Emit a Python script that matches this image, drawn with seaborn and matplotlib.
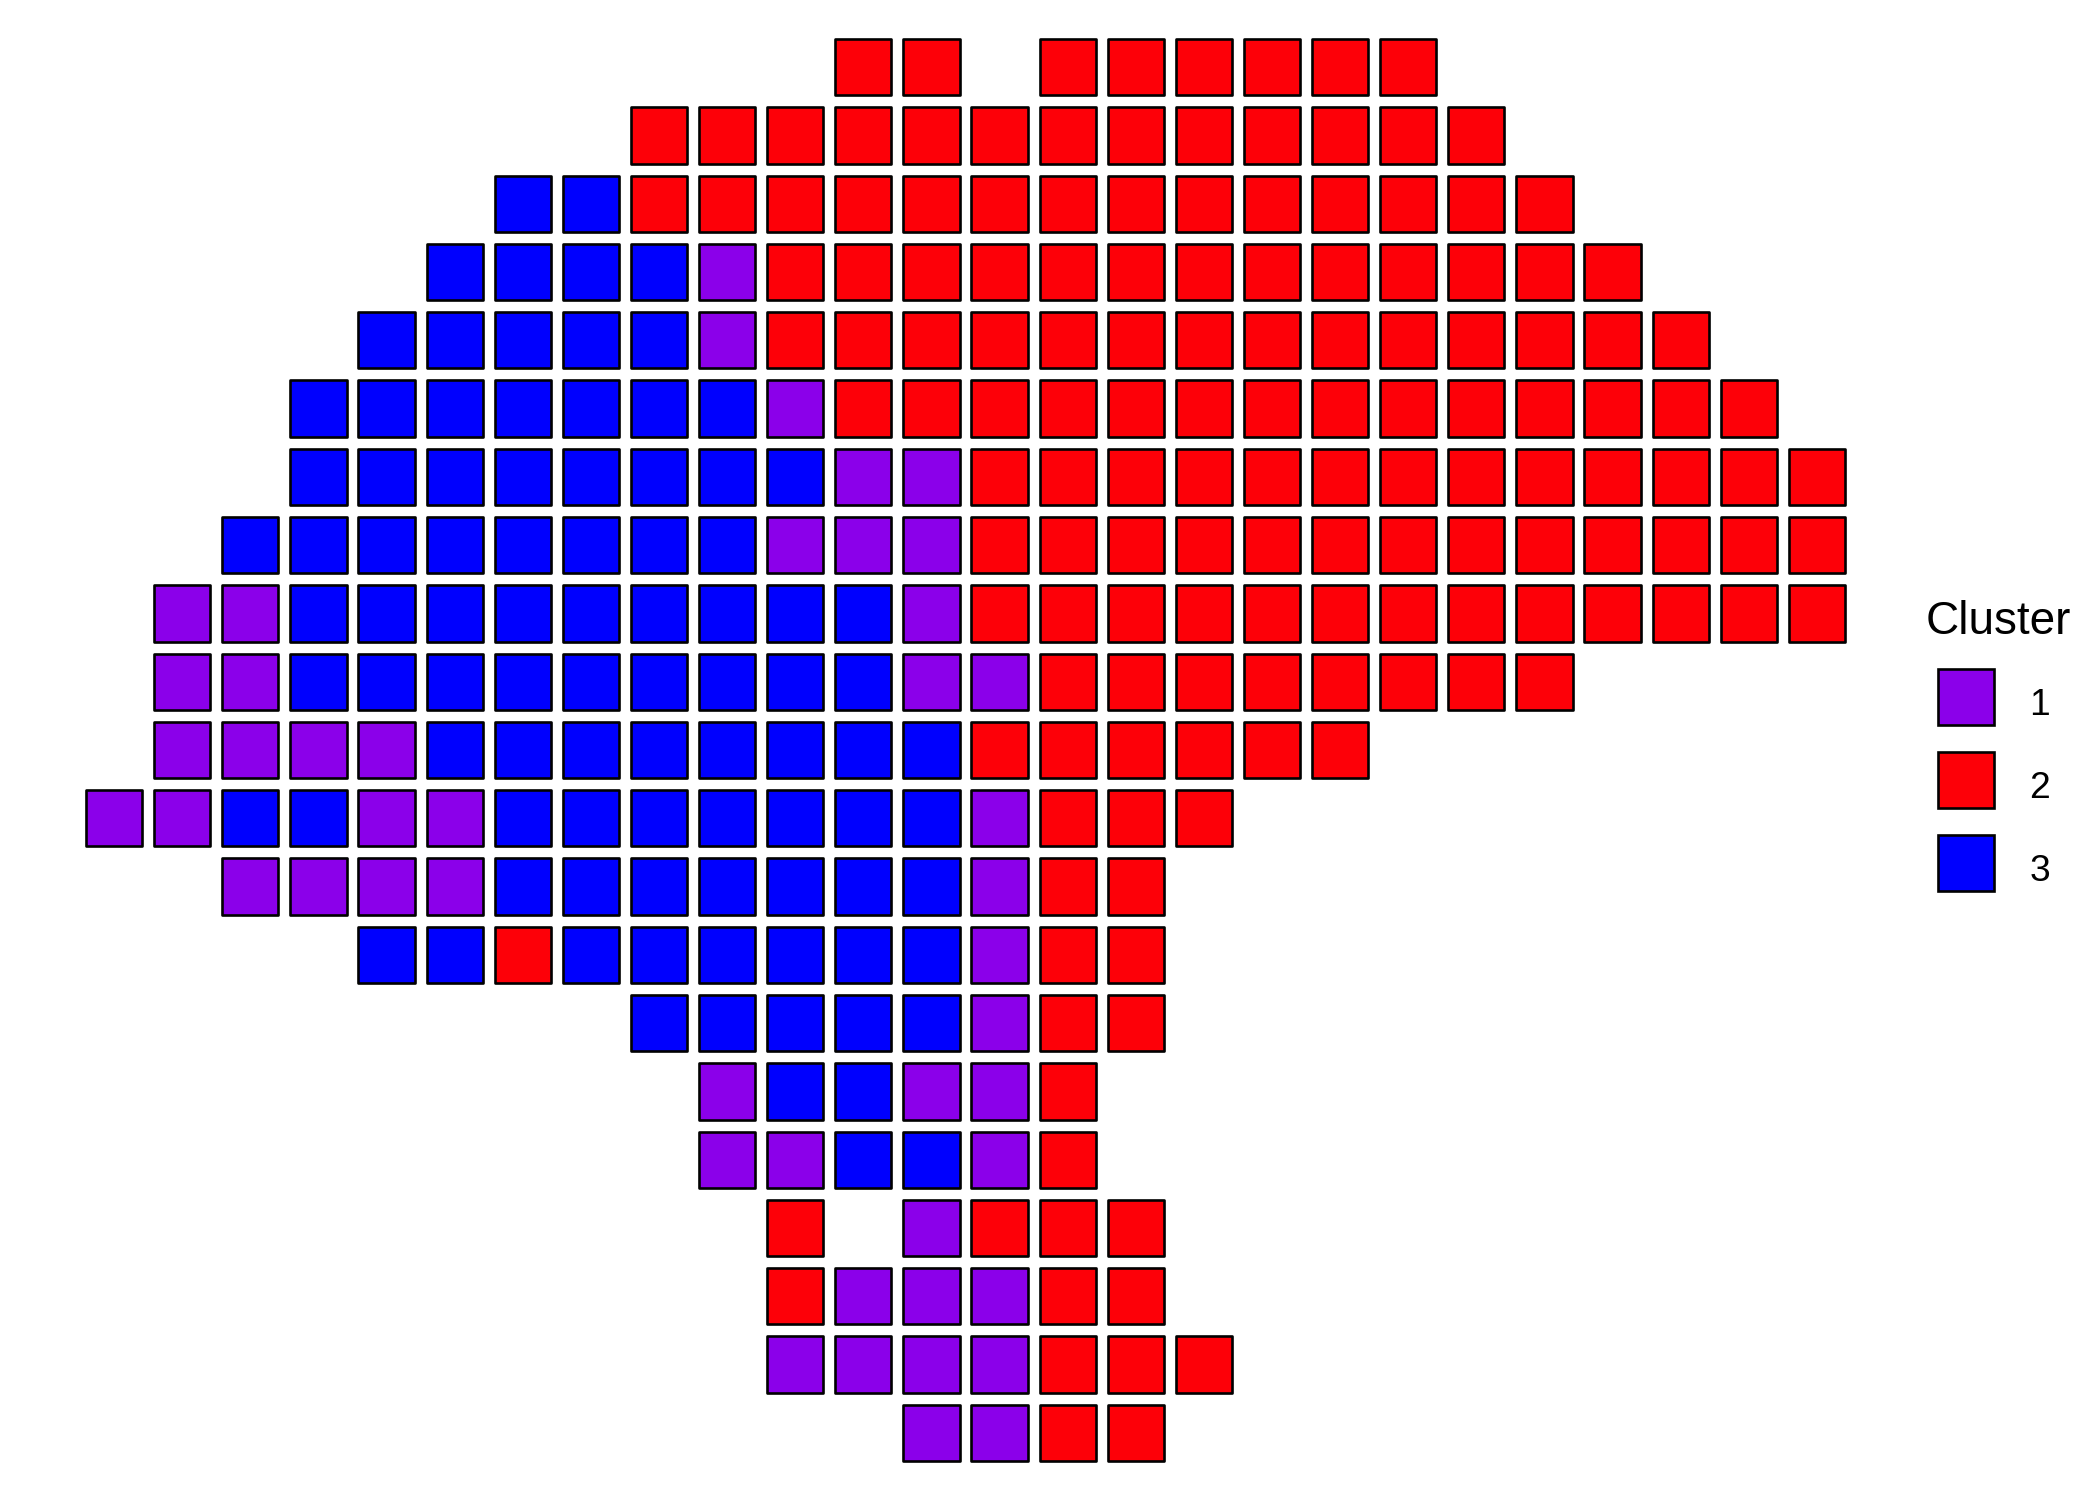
import numpy as np
import pandas as pd
import matplotlib
matplotlib.use("Agg")
import matplotlib.pyplot as plt
from matplotlib.lines import Line2D
import seaborn as sns

# Grid: one string per row (top to bottom), one char per column (26 columns).
# '1', '2', '3' = cluster, '.' = empty cell
grid_rows = [
    "..........." + "22" + "." + "222222" + "......",
    "........" + "2222222222222" + ".....",
    "......" + "33" + "22222222222222" + "....",
    "....." + "3333" + "1" + "2222222222222" + "...",
    "...." + "33333" + "1" + "22222222222222" + "..",
    "..." + "3333333" + "1" + "22222222222222" + ".",
    "..." + "33333333" + "11" + "2222222222222",
    ".." + "33333333" + "111" + "2222222222222",
    "." + "11" + "333333333" + "1" + "2222222222222",
    "." + "11" + "333333333" + "11" + "22222222" + "....",
    "." + "1111" + "33333333" + "222222" + ".......",
    "11" + "33" + "11" + "3333333" + "1" + "222" + ".........",
    ".." + "1111" + "3333333" + "1" + "22" + "..........",
    "...." + "33" + "2" + "333333" + "1" + "22" + "..........",
    "........" + "33333" + "1" + "22" + "..........",
    "........." + "1" + "33" + "11" + "2" + "...........",
    "........." + "11" + "33" + "1" + "2" + "...........",
    ".........." + "2" + "." + "1" + "222" + "..........",
    ".........." + "2" + "111" + "22" + "..........",
    ".........." + "1111" + "222" + ".........",
    "............" + "11" + "22" + "..........",
]

cluster_levels = ["1", "2", "3"]
cluster_colors = ["#8B00EA", "#FD0008", "#0000FE"]
legend_title = "Cluster"

cols, rows, clusters = [], [], []
for r, line in enumerate(grid_rows):
    for c, ch in enumerate(line):
        if ch in cluster_levels:
            cols.append(c)
            rows.append(r)
            clusters.append(ch)
df = pd.DataFrame({"col": cols, "row": rows, "cluster": clusters})

sns.set_style("white")
plt.rcParams["font.family"] = ["Liberation Sans", "DejaVu Sans"]
plt.rcParams["text.color"] = "black"

fig = plt.figure(figsize=(21, 15), dpi=100)
W, H = 2100, 1500
left_px, right_px = 80, 1851
top_px, bottom_px = 33, 1467
ax = fig.add_axes([left_px / W, 1 - bottom_px / H, (right_px - left_px) / W, (bottom_px - top_px) / H])

palette = dict(zip(cluster_levels, cluster_colors))
sns.scatterplot(data=df, x="col", y="row", hue="cluster", hue_order=cluster_levels,
                palette=palette, marker="s", s=1640, edgecolor="black",
                linewidth=1.9, legend=False, ax=ax)
ax.set_xlim(-0.5, 25.5)
ax.set_ylim(20.5, -0.5)
ax.set_axis_off()

handles = [Line2D([], [], marker="s", linestyle="none", markersize=40.5,
                  markerfacecolor=c, markeredgecolor="black", markeredgewidth=1.9)
           for c in cluster_colors]
leg = fig.legend(handles, cluster_levels, title=legend_title, loc="upper left",
                 bbox_to_anchor=(1907 / W, 1 - 581 / H), bbox_transform=fig.transFigure,
                 frameon=False, fontsize=26.8, title_fontsize=33,
                 handlelength=2.17, handleheight=1.6, labelspacing=0.946,
                 handletextpad=0.62, borderpad=0, alignment="left", labelcolor="black")
leg.get_title().set_color("black")

fig.savefig("out.png", dpi=100, facecolor="white")
